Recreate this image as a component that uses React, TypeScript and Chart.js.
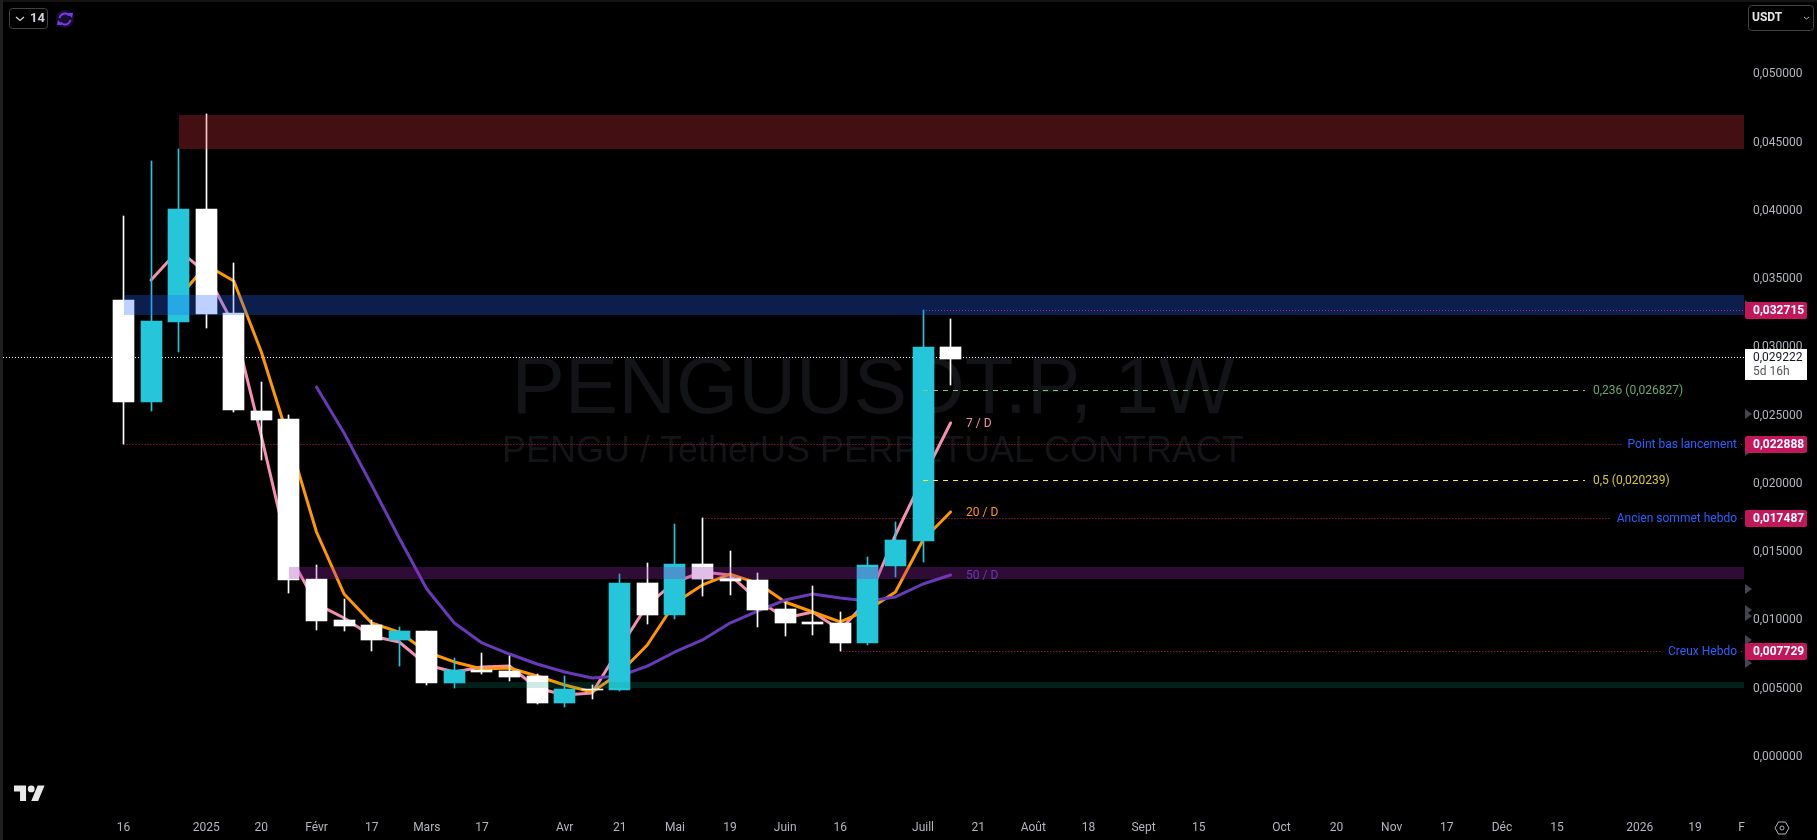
import React, { useEffect, useRef } from "react";
import { Chart, registerables } from "chart.js";

Chart.register(...registerables);

const FONT = "Roboto, 'Noto Sans', sans-serif";

// [wick high, body top, body bottom, wick low]
const highs = [0.03962,0.04365,0.04453,0.0471,0.03618,0.02746,0.02504,0.01405,0.01156,0.01002,0.00951,0.00922,0.00724,0.00761,0.00739,0.00607,0.00592,0.00526,0.01339,0.0142,0.01706,0.017487,0.01508,0.01347,0.01134,0.01251,0.01061,0.01464,0.0172,0.032715,0.03208];
const bodyTops = [0.03347,0.03193,0.04014,0.04014,0.03252,0.02534,0.02475,0.01303,0.01002,0.00966,0.00922,0.00922,0.00636,0.00636,0.00629,0.00592,0.00497,0.00497,0.01273,0.01273,0.01413,0.01413,0.0131,0.01295,0.01083,0.00988,0.0098,0.01405,0.01589,0.03003,0.03003];
const bodyBottoms = [0.026,0.026,0.03186,0.03244,0.02541,0.02468,0.01295,0.00995,0.00958,0.00856,0.00856,0.00541,0.00541,0.00621,0.00585,0.00394,0.00394,0.00489,0.00489,0.01039,0.01039,0.01303,0.01288,0.01076,0.0098,0.00973,0.00834,0.00834,0.01398,0.01581,0.02915];
const lows = [0.022888,0.02534,0.02966,0.03142,0.02526,0.02175,0.012,0.00929,0.00922,0.00775,0.00665,0.00526,0.00504,0.00607,0.00555,0.00387,0.00365,0.00424,0.00482,0.00973,0.0101,0.01178,0.01186,0.00951,0.00885,0.00892,0.007729,0.00819,0.01317,0.01427,0.02724];
const isCyan = [0,1,1,0,0,0,0,0,0,0,1,0,1,0,0,0,1,0,1,0,1,0,0,0,0,0,0,1,1,1,0];

const ma7Start = 1;
const ma7 = [0.03493,0.03713,0.03545,0.03164,0.0235,0.01486,0.0112,0.01017,0.00885,0.00841,0.00673,0.00621,0.00658,0.00665,0.00504,0.00453,0.00467,0.00797,0.01112,0.01281,0.01354,0.01332,0.01149,0.01017,0.01061,0.00929,0.01149,0.01625,0.02043,0.02446];
const ma20Start = 2;
const ma20 = [0.03362,0.03603,0.03486,0.02966,0.02321,0.01647,0.01193,0.0098,0.00914,0.00768,0.00695,0.00643,0.00651,0.00592,0.00526,0.00475,0.00614,0.00819,0.01127,0.01259,0.01339,0.01273,0.01134,0.01061,0.00988,0.01076,0.01207,0.01589,0.01794];
const ma50Start = 7;
const ma50 = [0.0271,0.02372,0.01991,0.01603,0.01229,0.0098,0.00834,0.00753,0.0068,0.00621,0.00577,0.00592,0.00665,0.00768,0.00856,0.0098,0.01068,0.01149,0.01193,0.01164,0.01142,0.01171,0.01266,0.01332];

const xTickPositions = [0,3,5,7,9,11,13,16,18,20,22,24,26,29,31,33,35,37,39,42,44,46,48,50,52,55,57,58.69];
const xTickLabels = ["16","2025","20","Févr","17","Mars","17","Avr","21","Mai","19","Juin","16","Juill","21","Août","18","Sept","15","Oct","20","Nov","17","Déc","15","2026","19","F"];
const yTickValues = [0,0.005,0.01,0.015,0.02,0.025,0.03,0.035,0.04,0.045,0.05];

const zoneStarts = [2,0.03,6,12];
const zoneTops = [0.04703,0.03384,0.01391,0.00548];
const zoneBottoms = [0.04453,0.03237,0.01303,0.00504];
const zoneColors = ["rgba(242,54,69,0.28)","rgba(41,98,255,0.3)","rgba(156,39,176,0.3)","rgba(8,153,129,0.2)"];

const levelValues = [0.032715,0.022888,0.017487,0.007729];
const levelStarts = [29,0,21,26];
const levelNames = ["","Point bas lancement","Ancien sommet hebdo","Creux Hebdo"];
const levelPrices = ["0,032715","0,022888","0,017487","0,007729"];

const fibValues = [0.026827,0.020239];
const fibLabels = ["0,236 (0,026827)","0,5 (0,020239)"];
const fibLineColors = ["#81c784","#ffeb3b"];
const fibTextColors = ["#6ba56f","#d9c92f"];
const fibStart = 29;

const lastPrice = 0.029222;
const lastPriceLabel = "0,029222";
const countdown = "5d 16h";
const axisMarkers = [0.0331,0.02512,0.0224,0.01764,0.01229,0.01076,0.01032,0.00856,0.00687];

const formatPrice = (v: number) => v.toFixed(6).replace(".", ",");

function dotted(ctx: any, x1: number, x2: number, y: number, color: string, dash: number[]) {
  ctx.save();
  ctx.strokeStyle = color;
  ctx.lineWidth = 1;
  ctx.setLineDash(dash);
  ctx.beginPath();
  const yy = Math.floor(y) + 0.5;
  ctx.moveTo(x1, yy);
  ctx.lineTo(x2, yy);
  ctx.stroke();
  ctx.restore();
}

const snapPlugin = {
  id: "snap",
  afterDatasetsUpdate(chart: any) {
    chart.data.datasets.forEach((d: any, i: number) => {
      if (d.type !== "bar") return;
      chart.getDatasetMeta(i).data.forEach((el: any) => {
        el.x = Math.floor(el.x) + 0.5;
        el.y = Math.round(el.y);
        el.base = Math.round(el.base);
      });
    });
  },
};

const backdropPlugin = {
  id: "backdrop",
  beforeDatasetsDraw(chart: any) {
    const { ctx, chartArea: a, scales } = chart;
    const x = scales.x, y = scales.y;
    ctx.save();
    ctx.fillStyle = "#131417";
    ctx.textAlign = "center";
    ctx.textBaseline = "alphabetic";
    ctx.font = "80px 'Liberation Sans', Arial, sans-serif";
    ctx.fillText("PENGUUSDT.P, 1W", 873, 413);
    ctx.font = "36px 'Liberation Sans', Arial, sans-serif";
    ctx.fillText("PENGU / TetherUS PERPETUAL CONTRACT", 873, 462);
    ctx.restore();
    dotted(ctx, a.left, a.right, y.getPixelForValue(lastPrice), "#ffffff", [1, 2]);
    levelValues.forEach((v, i) => {
      const py = y.getPixelForValue(v);
      const x1 = x.getPixelForValue(levelStarts[i]);
      const name = levelNames[i];
      if (!name) {
        dotted(ctx, x1, a.right, py, "#d81b60", [1, 2]);
      } else {
        ctx.save();
        ctx.font = `12px ${FONT}`;
        const w = ctx.measureText(name).width;
        ctx.restore();
        dotted(ctx, x1, 1737 - w - 6, py, "#d81b60", [1, 2]);
        dotted(ctx, 1741, a.right, py, "#d81b60", [1, 2]);
      }
    });
  },
  afterDatasetsDraw(chart: any) {
    const { ctx, chartArea: a, scales } = chart;
    const x = scales.x, y = scales.y;
    zoneTops.forEach((top, i) => {
      const l = Math.round(x.getPixelForValue(zoneStarts[i]));
      const t = Math.round(y.getPixelForValue(top));
      const b = Math.round(y.getPixelForValue(zoneBottoms[i]));
      ctx.fillStyle = zoneColors[i];
      ctx.fillRect(l, t, a.right - l, b - t);
    });
    fibValues.forEach((v, i) => {
      dotted(ctx, x.getPixelForValue(fibStart), 1585, y.getPixelForValue(v), fibLineColors[i], [5, 5]);
      ctx.save();
      ctx.fillStyle = fibTextColors[i];
      ctx.font = `12px ${FONT}`;
      ctx.textAlign = "left";
      ctx.textBaseline = "middle";
      ctx.fillText(fibLabels[i], 1593, y.getPixelForValue(v) + 0.5);
      ctx.restore();
    });
    ctx.save();
    ctx.font = `12px ${FONT}`;
    ctx.textBaseline = "middle";
    ctx.textAlign = "left";
    const last = 30;
    [[ma7[ma7.length - 1], "7 / D", "#f48fb1"], [ma20[ma20.length - 1], "20 / D", "#ff9800"], [ma50[ma50.length - 1], "50 / D", "#673ab7"]].forEach((m: any) => {
      ctx.fillStyle = m[2];
      ctx.fillText(m[1], x.getPixelForValue(last) + 15.5, y.getPixelForValue(m[0]) + 1);
    });
    ctx.textAlign = "right";
    ctx.fillStyle = "#2962ff";
    levelValues.forEach((v, i) => {
      if (levelNames[i]) ctx.fillText(levelNames[i], 1737, y.getPixelForValue(v) + 0.5);
    });
    ctx.restore();
  },
  afterDraw(chart: any) {
    const { ctx, scales } = chart;
    const y = scales.y;
    ctx.save();
    // frame edge
    ctx.fillStyle = "#1f1f1f";
    ctx.fillRect(0, 0, 3, 840);
    ctx.fillStyle = "#141414";
    ctx.fillRect(3, 0, 1814, 2);

    // axis markers
    ctx.fillStyle = "#434651";
    axisMarkers.forEach((v) => {
      const py = y.getPixelForValue(v);
      ctx.beginPath();
      ctx.moveTo(1745, py - 5);
      ctx.lineTo(1752, py);
      ctx.lineTo(1745, py + 5);
      ctx.closePath();
      ctx.fill();
    });

    // price tags
    ctx.font = `bold 12px ${FONT}`;
    ctx.textBaseline = "middle";
    ctx.textAlign = "left";
    levelValues.forEach((v, i) => {
      const py = Math.floor(y.getPixelForValue(v)) + 0.5;
      ctx.fillStyle = "#c2185b";
      ctx.beginPath();
      ctx.roundRect(1745, py - 8.5, 62, 17, 2);
      ctx.fill();
      ctx.fillStyle = "#ffffff";
      ctx.fillText(levelPrices[i], 1753, py + 0.5);
    });

    // last price tag
    const lp = Math.floor(y.getPixelForValue(lastPrice));
    ctx.fillStyle = "#ffffff";
    ctx.fillRect(1745, lp - 8, 62, 31);
    ctx.font = `12px ${FONT}`;
    ctx.fillStyle = "#131722";
    ctx.fillText(lastPriceLabel, 1753, lp + 1);
    ctx.fillStyle = "#555555";
    ctx.fillText(countdown, 1753, lp + 15);

    // top-left button
    ctx.strokeStyle = "#434343";
    ctx.lineWidth = 1;
    ctx.beginPath();
    ctx.roundRect(9.5, 8.5, 38, 20, 3);
    ctx.stroke();
    ctx.strokeStyle = "#d1d4dc";
    ctx.lineWidth = 1.2;
    ctx.beginPath();
    ctx.moveTo(16, 17);
    ctx.lineTo(20, 20.5);
    ctx.lineTo(24, 17);
    ctx.stroke();
    ctx.fillStyle = "#d1d4dc";
    ctx.font = `bold 13px ${FONT}`;
    ctx.fillText("14", 30, 19);

    // sync icon
    ctx.fillStyle = "#170f33";
    ctx.beginPath();
    ctx.arc(65, 19, 9, 0, Math.PI * 2);
    ctx.fill();
    ctx.strokeStyle = "#7c3aed";
    ctx.lineWidth = 2;
    ctx.beginPath();
    ctx.arc(65, 19, 5.5, Math.PI * 1.05, Math.PI * 1.8);
    ctx.stroke();
    ctx.beginPath();
    ctx.arc(65, 19, 5.5, Math.PI * 0.05, Math.PI * 0.8);
    ctx.stroke();
    ctx.fillStyle = "#7c3aed";
    ctx.beginPath();
    ctx.moveTo(68, 13); ctx.lineTo(73, 13); ctx.lineTo(72, 18); ctx.closePath();
    ctx.fill();
    ctx.beginPath();
    ctx.moveTo(62, 25); ctx.lineTo(57, 25); ctx.lineTo(58, 20); ctx.closePath();
    ctx.fill();

    // currency select
    ctx.strokeStyle = "#434343";
    ctx.lineWidth = 1;
    ctx.beginPath();
    ctx.roundRect(1748.5, 5.5, 65, 25, 3);
    ctx.stroke();
    ctx.fillStyle = "#e6e6e6";
    ctx.font = `bold 12px ${FONT}`;
    ctx.fillText("USDT", 1752, 18);
    ctx.strokeStyle = "#b2b5be";
    ctx.beginPath();
    ctx.moveTo(1804, 17);
    ctx.lineTo(1806.5, 19);
    ctx.lineTo(1809, 17);
    ctx.stroke();

    // TradingView mark
    ctx.save();
    ctx.translate(14, 782);
    ctx.scale(31 / 36, 31 / 36);
    ctx.fillStyle = "#e8e8e8";
    ctx.fill(new Path2D("M14 22H7V11H0V4h14v18zM28 22h-8l7.5-18h8L28 22z"));
    ctx.beginPath();
    ctx.arc(20, 8, 4, 0, Math.PI * 2);
    ctx.fill();
    ctx.restore();

    // settings hexagon
    const gx = 1782, gy = 828;
    ctx.strokeStyle = "#b2b5be";
    ctx.lineWidth = 1;
    ctx.beginPath();
    [[-7, 0], [-3.5, -6], [3.5, -6], [7, 0], [3.5, 6], [-3.5, 6]].forEach((p, i) => {
      if (i === 0) ctx.moveTo(gx + p[0], gy + p[1]);
      else ctx.lineTo(gx + p[0], gy + p[1]);
    });
    ctx.closePath();
    ctx.stroke();
    ctx.beginPath();
    ctx.arc(gx, gy, 2, 0, Math.PI * 2);
    ctx.stroke();
    ctx.restore();
  },
};

export default function App() {
  const ref = useRef<HTMLCanvasElement | null>(null);
  useEffect(() => {
    document.body.style.background = "#000";
    document.body.style.overflow = "hidden";
    const colors = isCyan.map((c) => (c ? "#26c6da" : "#ffffff"));
    const lineDs = (label: string, vals: number[], start: number, color: string, order: number) => ({
      type: "line",
      label,
      data: vals.map((v, i) => ({ x: i + start, y: v })),
      borderColor: color,
      borderWidth: 3,
      pointRadius: 0,
      tension: 0,
      borderCapStyle: "round",
      borderJoinStyle: "round",
      order,
    });
    const chart = new Chart(ref.current as HTMLCanvasElement, {
      type: "bar",
      data: {
        datasets: [
          {
            type: "bar",
            label: "Bodies",
            data: bodyTops.map((t, i) => ({ x: i, y: [bodyBottoms[i], t] })),
            backgroundColor: colors,
            borderWidth: 0,
            barThickness: 21,
            grouped: false,
            order: 0,
          },
          {
            type: "bar",
            label: "Wicks",
            data: highs.map((h, i) => ({ x: i, y: [lows[i], h] })),
            backgroundColor: colors,
            borderWidth: 0,
            barThickness: 1,
            grouped: false,
            order: 1,
          },
          lineDs("MA 50", ma50, ma50Start, "#673ab7", 2),
          lineDs("MA 20", ma20, ma20Start, "#ff9800", 3),
          lineDs("MA 7", ma7, ma7Start, "#f48fb1", 4),
        ] as any,
      },
      options: {
        animation: false,
        responsive: false,
        devicePixelRatio: 1,
        layout: { padding: 0 },
        events: [],
        plugins: { legend: { display: false }, tooltip: { enabled: false } },
        scales: {
          x: {
            type: "linear",
            offset: false,
            min: -4.48,
            max: 58.78,
            grid: { display: false, offset: false, drawTicks: false },
            border: { display: false },
            afterBuildTicks: (s: any) => { s.ticks = xTickPositions.map((value) => ({ value })); },
            afterFit: (s: any) => { s.height = 25; s.paddingLeft = 0; s.paddingRight = 0; },
            ticks: {
              autoSkip: false,
              maxRotation: 0,
              padding: 6,
              color: "#b2b5be",
              font: { family: FONT, size: 12 },
              callback: (_v: any, i: number) => xTickLabels[i],
            },
          },
          y: {
            type: "linear",
            position: "right",
            min: -0.004264,
            max: 0.05545,
            grid: { display: false, drawTicks: false },
            border: { display: false },
            afterBuildTicks: (s: any) => { s.ticks = yTickValues.map((value) => ({ value })); },
            afterFit: (s: any) => { s.width = 73; s.paddingTop = 0; s.paddingBottom = 0; },
            ticks: {
              padding: 9,
              color: "#b2b5be",
              font: { family: FONT, size: 12 },
              callback: (v: any) => formatPrice(Number(v)),
            },
          },
        },
      } as any,
      plugins: [snapPlugin, backdropPlugin],
    } as any);
    return () => chart.destroy();
  }, []);
  return (
    <canvas
      ref={ref}
      width={1817}
      height={840}
      style={{ position: "fixed", left: 0, top: 0, width: 1817, height: 840, background: "#000", display: "block" }}
    />
  );
}
